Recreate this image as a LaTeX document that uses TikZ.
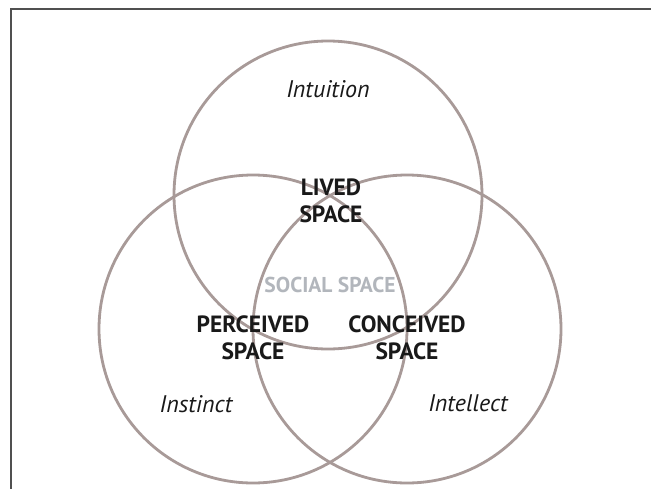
\documentclass[tikz,border=0pt]{standalone}
\usepackage{fontspec}
\setmainfont{PT Sans}
\definecolor{ring}{RGB}{168,154,152}
\definecolor{social}{RGB}{178,182,188}
\definecolor{ink}{RGB}{25,25,25}
\begin{document}
\begin{tikzpicture}[x=1pt,y=-1pt,
  ring/.style={draw=ring,line width=2.8pt},
  label/.style={font=\fontsize{24}{28}\selectfont\itshape,text=ink},
  space/.style={font=\fontsize{23.5}{27}\selectfont\bfseries,text=ink,align=center},
  socialtxt/.style={font=\fontsize{21.5}{24}\selectfont\bfseries,text=social}]
\useasboundingbox (0,0) rectangle (651,488);
\fill[white] (0,0) rectangle (651,488);
\draw[line width=1.2pt,draw={rgb,255:red,80;green,80;blue,80}] (11,490) -- (11,9) -- (653,9);
\draw[ring] (328,195) circle (154);
\draw[ring] (253,329) circle (154);
\draw[ring] (407,329) circle (154);
\node[label] (intuition) at (328,89) {Intuition};
\node[label] (instinct) at (196,404) {Instinct};
\node[label] (intellect) at (468,403) {Intellect};
\node[space] (lived) at (331,201) {LIVED\\SPACE};
\node[socialtxt] (social) at (330,285) {SOCIAL SPACE};
\node[space] (perceived) at (253,338) {PERCEIVED\\SPACE};
\node[space] (conceived) at (407,338) {CONCEIVED\\SPACE};
\end{tikzpicture}
\end{document}
